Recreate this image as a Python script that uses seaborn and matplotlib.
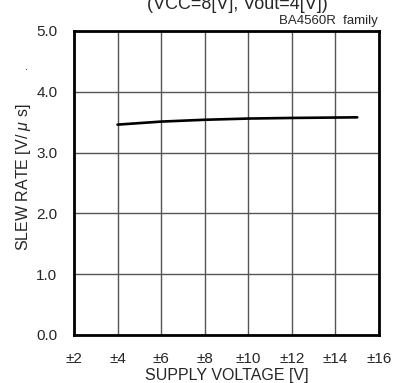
import matplotlib
matplotlib.use("Agg")
import matplotlib.pyplot as plt
import seaborn as sns
import pandas as pd

supply_v = [4, 6, 8, 10, 12, 15]
slew_rate = [3.46, 3.51, 3.54, 3.56, 3.57, 3.58]
x_ticks = [2, 4, 6, 8, 10, 12, 14, 16]
x_tick_labels = ["±2", "±4", "±6", "±8", "±10", "±12", "±14", "±16"]
y_ticks = [0, 1, 2, 3, 4, 5]
y_tick_labels = ["0.0", "1.0", "2.0", "3.0", "4.0", "5.0"]

sns.set_style("white")
plt.rcParams['font.family'] = ['Liberation Sans', 'DejaVu Sans']
plt.rcParams['mathtext.fontset'] = 'custom'
plt.rcParams['mathtext.it'] = 'Liberation Sans:italic'
plt.rcParams['mathtext.rm'] = 'Liberation Sans'

fig = plt.figure(figsize=(4.02, 3.83), dpi=100)
ax = fig.add_axes([74/402, 1 - 335/383, (379-74)/402, (335-31)/383])

df = pd.DataFrame({"v": supply_v, "sr": slew_rate})
sns.lineplot(data=df, x="v", y="sr", ax=ax, color="black", linewidth=1.9)

ax.set_xlim(2, 16)
ax.set_ylim(0, 5)
ax.set_xticks(x_ticks)
ax.set_xticklabels(x_tick_labels, fontsize=11)
ax.set_yticks(y_ticks)
ax.set_yticklabels(y_tick_labels, fontsize=11)
ax.grid(True, color="#555555", linewidth=1)
ax.set_axisbelow(True)
for s in ax.spines.values():
    s.set_visible(True)
    s.set_color("black")
    s.set_linewidth(2)
ax.tick_params(direction="in", length=4, width=1, color="black")
ax.tick_params(axis="x", pad=12.5)
ax.tick_params(axis="y", pad=12)
ax.set_xlabel("SUPPLY VOLTAGE [V]", fontsize=11.5, va="top")
ax.xaxis.set_label_coords(0.502, -0.108)
ax.set_ylabel("SLEW RATE [V/ $\\mu$ s]", fontsize=11.5, va="bottom")
ax.yaxis.set_label_coords(-0.134, 0.52)

fig.text(237/402, 1 - 9/383, "(VCC=8[V], Vout=4[V])", ha="center", va="baseline", fontsize=13)
fig.text(378/402, 1 - 24/383, "BA4560R  family", ha="right", va="baseline", fontsize=9.5)
fig.text(27/402, 1 - 70/383, ".", ha="center", va="baseline", fontsize=8)

fig.savefig("out.png", dpi=100)
